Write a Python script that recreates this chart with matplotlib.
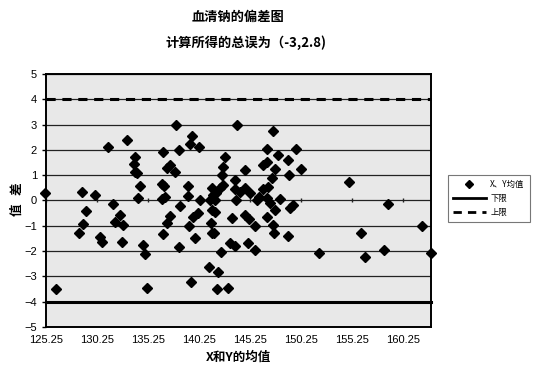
import matplotlib
matplotlib.use('Agg')
import matplotlib.pyplot as plt
from matplotlib.lines import Line2D

plt.rcParams['font.family'] = ['Noto Sans CJK SC', 'DejaVu Sans']

# 均值 (X轴) 与 差值 (Y轴)
mean_xy = [125.2, 126.2, 128.75, 128.5, 128.9, 129.15, 130.05, 130.5, 130.75, 131.35,
           131.85, 132.0, 132.55, 132.8, 132.75, 133.15, 134.0, 133.9, 134.0, 134.2,
           134.5, 134.3, 134.8, 134.95, 135.2, 136.75, 137.1, 136.6, 136.8, 136.6,
           136.9, 136.75, 137.1, 137.4, 137.4, 137.9, 138.0, 138.3, 138.4, 138.3,
           139.2, 139.2, 139.6, 139.35, 140.3, 139.7, 140.2, 139.3, 139.9, 139.45,
           140.35, 141.5, 141.65, 141.8, 141.3, 141.5, 141.8, 141.4, 141.5, 141.7,
           141.25, 142.1, 142.0, 142.4, 142.3, 142.6, 142.5, 142.6, 142.8, 143.1,
           143.45, 143.3, 143.8, 143.9, 143.8, 144.0, 144.3, 144.75, 145.25, 144.75,
           144.75, 145.2, 145.1, 145.75, 145.75, 145.9, 146.1, 146.55, 147.0, 146.9,
           147.2, 146.9, 146.55, 146.9, 146.9, 147.5, 147.7, 147.4, 147.7, 147.5,
           147.6, 148.0, 148.2, 148.95, 149.0, 149.05, 149.8, 149.15, 149.5, 150.25,
           152.0, 154.95, 156.15, 156.55, 158.4, 158.75, 162.1, 162.95, 141.95, 143.8]
diff_xy = [0.28, -3.5, 0.35, -1.27, -0.93, -0.41, 0.22, -1.45, -1.63, 2.1,
           -0.13, -0.86, -0.57, -0.97, -1.63, 2.39, 1.71, 1.44, 1.14, 1.1,
           0.57, 0.09, -1.76, -2.13, -3.47, 1.93, 1.27, 0.65, 0.57, 0.05,
           0.12, -1.34, -0.88, -0.62, 1.4, 1.14, 2.98, 2.0, -0.2, -1.83,
           0.57, 0.18, 2.56, 2.22, 2.13, -0.65, -0.48, -1.0, -1.47, -3.21,
           0.0, 0.51, 0.22, 0.0, 0.0, -0.38, -0.44, -0.88, -1.27, -1.27,
           -2.62, -2.81, -3.51, -2.02, 0.48, 0.61, 1.01, 1.34, 1.73, -3.47,
           -0.7, -1.69, -1.8, 0.0, 0.8, 2.98, 0.35, 0.48, 0.28, 1.21,
           -0.57, -0.74, -1.69, -1.0, -1.96, 0.0, 0.15, 0.45, 0.52, 0.09,
           -0.11, -0.64, 1.4, 1.53, 2.04, 2.75, 1.23, 0.88, -0.38, -0.97,
           -1.27, 1.8, 0.05, -1.4, 1.6, 1.0, 2.02, -0.31, -0.18, 1.23,
           -2.09, 0.74, -1.27, -2.22, -1.96, -0.15, -1.0, -2.09, 0.3, 0.45]

lower_limit = -4
upper_limit = 4
xticks = [125.25, 130.25, 135.25, 140.25, 145.25, 150.25, 155.25, 160.25]
yticks = [-5, -4, -3, -2, -1, 0, 1, 2, 3, 4, 5]

fig = plt.figure(figsize=(5.54, 3.71), dpi=100)
ax = fig.add_axes([0.083, 0.1186, 0.695, 0.682])
ax.set_facecolor('#e8e8e8')

ax.set_xlim(125.25, 163.0)
ax.set_ylim(-5, 5)

# 网格线
for v in yticks:
    ax.axhline(v, color='#222222', lw=0.9, zorder=1)

ax.axhline(lower_limit, color='black', lw=2.2, zorder=2, clip_on=False)
ax.axhline(upper_limit, color='black', lw=2.2, ls=(0, (3, 2.2)), zorder=2, clip_on=False)

# x 轴刻度线在 y=0 处
ax.plot(xticks, [0] * len(xticks), ls='none', marker='|', ms=3, color='#222222', zorder=2)

ax.plot(mean_xy, diff_xy, ls='none', marker='D', ms=4.6, color='black', zorder=3, clip_on=False)

ax.set_xticks(xticks)
ax.set_xticklabels([f'{t:.2f}' for t in xticks])
ax.set_yticks(yticks)
ax.tick_params(axis='x', length=0, pad=6, labelsize=8)
ax.tick_params(axis='y', length=3, width=1, labelsize=8)
for lab in ax.get_xticklabels() + ax.get_yticklabels():
    lab.set_fontfamily(['Liberation Sans', 'DejaVu Sans'])
    lab.set_fontweight('medium')
for sp in ax.spines.values():
    sp.set_linewidth(1.4)

ax.set_xlabel('X和Y的均值', fontsize=9, fontweight='bold', labelpad=4)
fig.text(0.032, 0.462, '值   差', rotation=90, fontsize=9, fontweight='bold',
         ha='center', va='center')

fig.text(0.43, 0.955, '血清钠的偏差图', fontsize=9.5, fontweight='bold', ha='center', va='center')
fig.text(0.445, 0.885, '计算所得的总误为（-3,2.8)', fontsize=9.5, fontweight='bold',
         ha='center', va='center')

handles = [Line2D([], [], ls='none', marker='D', ms=4, color='black'),
           Line2D([], [], color='black', lw=2),
           Line2D([], [], color='black', lw=2, ls=(0, (3, 2.2)))]
leg = fig.legend(handles, ['X、Y均值', '下限', '上限'], loc='upper left',
                 bbox_to_anchor=(0.808, 0.528), fontsize=6, frameon=True, fancybox=False,
                 edgecolor='#555555', handlelength=4.0, borderpad=0.6, labelspacing=0.6,
                 handletextpad=0.5, borderaxespad=0)
leg.get_frame().set_linewidth(0.8)

fig.savefig('out.png', dpi=100)
